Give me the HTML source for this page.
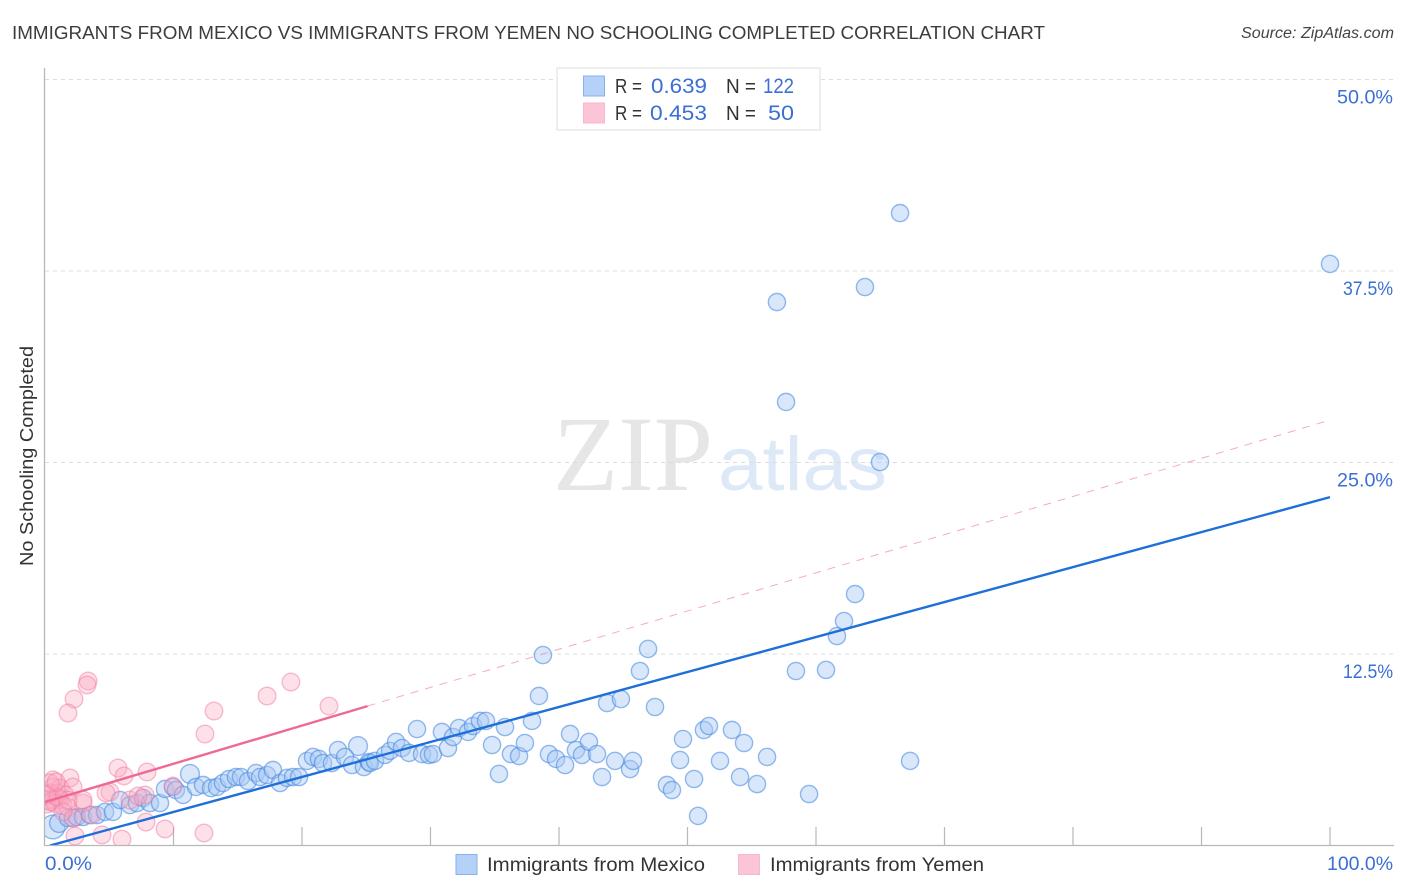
<!DOCTYPE html>
<html lang="en">
<head>
<meta charset="utf-8">
<title>Immigrants from Mexico vs Immigrants from Yemen No Schooling Completed Correlation Chart</title>
<style>
html,body{margin:0;padding:0;background:#fff;}
svg{display:block;font-family:"Liberation Sans",sans-serif;}
</style>
</head>
<body>
<svg id="chart" width="1406" height="892" viewBox="0 0 1406 892" xmlns="http://www.w3.org/2000/svg">
  <defs>
    <clipPath id="plot-clip"><rect x="45" y="68" width="1349" height="777"/></clipPath>
  </defs>
  <rect x="0" y="0" width="1406" height="892" fill="#ffffff"/>
  <text x="12" y="39" font-size="18.5" fill="#3c3c3c" textLength="1033" lengthAdjust="spacingAndGlyphs">IMMIGRANTS FROM MEXICO VS IMMIGRANTS FROM YEMEN NO SCHOOLING COMPLETED CORRELATION CHART</text>
  <text x="1241" y="38" font-size="15.3" font-style="italic" fill="#444444" textLength="153" lengthAdjust="spacingAndGlyphs">Source: ZipAtlas.com</text>
  <text x="553" y="490" font-family="'Liberation Serif',serif" font-size="107" font-weight="400" fill="#e6e6e6" textLength="160" lengthAdjust="spacingAndGlyphs">ZIP</text>
  <text x="718" y="490" font-size="76" fill="#deE9f8" textLength="169" lengthAdjust="spacingAndGlyphs">atlas</text>
  <g id="grid"></g>
  <g id="axes"></g>
  <g clip-path="url(#plot-clip)">
    <g id="mexico-points"></g>
    <g id="yemen-points"></g>
    <g id="trends"></g>
  </g>
  <text transform="translate(33,456) rotate(-90)" font-size="18.6" fill="#333333" text-anchor="middle" textLength="220" lengthAdjust="spacingAndGlyphs">No Schooling Completed</text>

  <g>
    <rect x="557" y="68" width="263" height="62" fill="#ffffff" stroke="#dddddd" stroke-width="1"/>
    <rect x="583.5" y="76" width="21" height="20" fill="#b5d1f7" stroke="#85b2ec" stroke-width="1"/>
    <rect x="583.5" y="103" width="21" height="20" fill="#fcc5d7" stroke="#f7b7cc" stroke-width="1"/>
    <text x="615" y="93" font-size="20" fill="#333333" textLength="27" lengthAdjust="spacingAndGlyphs">R =</text>
    <text x="651" y="93" font-size="21.5" fill="#3b6fd4" textLength="56" lengthAdjust="spacingAndGlyphs">0.639</text>
    <text x="726" y="93" font-size="20" fill="#333333" textLength="30" lengthAdjust="spacingAndGlyphs">N =</text>
    <text x="763" y="93" font-size="21.5" fill="#3b6fd4" textLength="31" lengthAdjust="spacingAndGlyphs">122</text>
    <text x="615" y="120" font-size="20" fill="#333333" textLength="27" lengthAdjust="spacingAndGlyphs">R =</text>
    <text x="650" y="120" font-size="21.5" fill="#3b6fd4" textLength="57" lengthAdjust="spacingAndGlyphs">0.453</text>
    <text x="726" y="120" font-size="20" fill="#333333" textLength="30" lengthAdjust="spacingAndGlyphs">N =</text>
    <text x="768" y="120" font-size="21.5" fill="#3b6fd4" textLength="26" lengthAdjust="spacingAndGlyphs">50</text>
  </g>

  <g>
    <rect x="456" y="854.5" width="21" height="20" fill="#b5d1f7" stroke="#85b2ec" stroke-width="1"/>
    <text x="487" y="871" font-size="19.5" fill="#333333" textLength="218" lengthAdjust="spacingAndGlyphs">Immigrants from Mexico</text>
    <rect x="738.5" y="854.5" width="21" height="20" fill="#fcc5d7" stroke="#f7b7cc" stroke-width="1"/>
    <text x="770" y="871" font-size="19.5" fill="#333333" textLength="214" lengthAdjust="spacingAndGlyphs">Immigrants from Yemen</text>
  </g>
</svg>
<script>
// ---- chart data (percent units) ----
const xTickValues = [0,10,20,30,40,50,60,70,80,90,100];
const yTickValues = [12.5,25,37.5,50];
const yTickLabels = ["12.5%","25.0%","37.5%","50.0%"];
const xEndLabels = ["0.0%","100.0%"];

const mexicoX = [0.62,1.09,11.28,24.36,1.79,2.18,2.49,2.96,3.50,4.05,4.67,5.29,5.84,6.61,7.16,7.63,8.17,8.95,9.34,9.96,10.19,10.74,11.75,12.30,12.92,13.39,13.85,14.32,14.86,15.25,15.80,16.42,16.73,17.28,17.74,18.29,18.83,19.30,19.77,20.39,20.86,21.32,21.63,22.33,22.80,23.35,23.89,24.82,25.21,25.29,25.68,26.46,26.85,27.32,27.78,28.33,28.95,29.34,29.88,30.19,30.89,31.36,31.75,32.22,32.92,33.31,33.85,34.32,34.79,35.33,35.80,36.26,36.89,37.35,37.90,38.44,38.75,39.22,39.77,40.47,40.86,41.32,41.79,42.33,42.96,43.35,43.74,44.36,44.82,45.53,45.76,46.30,46.93,47.47,48.40,48.79,49.42,49.65,50.51,50.82,51.28,51.67,52.53,53.46,54.09,54.40,55.41,56.19,56.96,57.67,58.44,59.46,60.78,61.63,62.18,63.04,63.81,64.98,66.54,67.32,100];
const mexicoY = [1.21,1.47,4.67,6.49,1.79,1.79,1.86,1.86,1.99,1.99,2.19,2.19,2.97,2.64,2.77,3.10,2.77,2.77,3.69,3.82,3.62,3.30,3.82,3.95,3.75,3.82,4.08,4.34,4.47,4.47,4.21,4.73,4.47,4.60,4.93,4.08,4.41,4.47,4.47,5.52,5.78,5.65,5.38,5.38,6.23,5.78,5.25,5.12,5.45,5.38,5.52,5.91,6.17,6.76,6.36,6.04,7.60,5.97,5.91,5.97,7.41,6.36,7.08,7.67,7.41,7.80,8.13,8.13,6.56,4.67,7.73,5.97,5.84,6.69,8.13,9.76,12.43,5.97,5.65,5.25,7.28,6.23,5.91,6.76,5.97,4.47,9.30,5.52,9.56,4.99,5.52,11.39,12.83,9.04,3.95,3.62,5.58,6.95,4.34,1.93,7.54,7.80,5.52,7.54,4.47,6.69,4.01,5.78,35.47,28.95,11.39,3.36,11.46,13.67,14.65,16.41,36.45,25.03,41.28,5.52,37.96];
// relative population weight of the leading Mexico points; the rest default to 1
const mexicoWeights = [1.9,1.2,1.2,1.2];

const yemenX = [3.35,3.27,2.26,1.79,13.15,12.45,17.28,19.14,22.10,5.68,6.15,7.94,9.96,5.06,4.75,7.78,2.96,7.86,9.34,12.37,2.33,4.44,5.99,0.62,1.95,0.62,1.17,2.18,0.39,1.01,1.56,0.23,0.62,1.17,0.16,0.78,1.40,0.39,1.01,1.79,2.18,2.96,1.40,0.39,0.16,0.86,1.79,3.66,6.61,7.24];
const yemenY = [10.74,10.48,9.56,8.65,8.78,7.28,9.76,10.67,9.10,5.06,4.54,4.80,3.88,3.49,3.43,3.30,2.77,1.53,1.08,0.82,0.62,0.69,0.42,4.28,4.41,3.82,3.75,3.82,3.43,3.43,3.30,2.97,2.97,2.97,2.70,2.75,2.60,2.85,3.15,2.50,1.79,2.97,2.20,4.08,3.30,4.15,2.97,1.99,2.97,3.23];

const mexicoTrendX = [0.4,100];
const mexicoTrendY = [0,22.74];
const yemenTrendX = [0,25.1];
const yemenTrendY = [2.84,9.10];
const yemenDashX = [25.1,100];
const yemenDashY = [9.10,27.77];

// ---- axis functions ----
function xScale(v){ return 45 + v * 12.85; }
function yScale(v){ return 845.5 - v * 15.32; }
const NS = 'http://www.w3.org/2000/svg';
function mk(parent, tag, attrs, text){
  const el = document.createElementNS(NS, tag);
  for (const k in attrs) el.setAttribute(k, attrs[k]);
  if (text !== undefined) el.textContent = text;
  parent.appendChild(el);
  return el;
}
const gridG = document.getElementById('grid');
const axesG = document.getElementById('axes');
const mexG = document.getElementById('mexico-points');
const yemG = document.getElementById('yemen-points');
const trendG = document.getElementById('trends');

// gridlines + y labels
yTickValues.forEach(function(v, i){
  const line = mk(gridG, 'line', {x1:45, x2:1394, y1:yScale(v), y2:yScale(v), stroke:'#dcdcdc', 'stroke-width':1, 'stroke-dasharray':'4 4'});
  
  
  const narrow = /[137]/.test(yTickLabels[i]);
  const label = mk(axesG, 'text', {x:1393, y:yScale(v)+24, 'font-size':19.4, fill:'#3b6fd4', 'text-anchor':'end', textLength: narrow ? 50 : 56, lengthAdjust:'spacingAndGlyphs'}, yTickLabels[i]);
  
  
});

// axis lines
const yAxis = mk(axesG, 'line', {x1:44.5, x2:44.5, y1:68, y2:846, stroke:'#b8b8b8', 'stroke-width':1.3});


const xAxis = mk(axesG, 'line', {x1:44, x2:1394, y1:845.5, y2:845.5, stroke:'#b8b8b8', 'stroke-width':1.3});



// x ticks
xTickValues.forEach(function(v){
  if (v === 0) return;
  const t = mk(axesG, 'line', {x1:xScale(v), x2:xScale(v), y1:827, y2:845.5, stroke:'#b8b8b8', 'stroke-width':1.2});
  
  
});
const xMin = mk(axesG, 'text', {x:45, y:870, 'font-size':19.4, fill:'#3b6fd4', textLength:47, lengthAdjust:'spacingAndGlyphs'}, xEndLabels[0]);


const xMax = mk(axesG, 'text', {x:1393, y:870, 'font-size':19.4, fill:'#3b6fd4', 'text-anchor':'end', textLength:66, lengthAdjust:'spacingAndGlyphs'}, xEndLabels[1]);



// points
mexicoX.forEach(function(v, i){
  const w = mexicoWeights[i] === undefined ? 1 : mexicoWeights[i];
  const r = 8.6 * Math.sqrt(w);
  const c = mk(mexG, 'circle', {cx:xScale(v), cy:yScale(mexicoY[i]), r:r, fill:'#a9caf4', 'fill-opacity':0.45, stroke:'#3f84e0', 'stroke-opacity':0.55, 'stroke-width':1.4});
  
  
});
yemenX.forEach(function(v, i){
  const c = mk(yemG, 'circle', {cx:xScale(v), cy:yScale(yemenY[i]), r:8.8, fill:'#fba8c2', 'fill-opacity':0.36, stroke:'#ee7fa3', 'stroke-opacity':0.5, 'stroke-width':1.4});
  
  
});

// trend lines
const dash = mk(trendG, 'line', {x1:xScale(yemenDashX[0]), y1:yScale(yemenDashY[0]), x2:xScale(yemenDashX[1]), y2:yScale(yemenDashY[1]), stroke:'#f08fad', 'stroke-width':1, 'stroke-dasharray':'8 7', 'stroke-opacity':0.75});


const yTrend = mk(trendG, 'line', {x1:xScale(yemenTrendX[0]), y1:yScale(yemenTrendY[0]), x2:xScale(yemenTrendX[1]), y2:yScale(yemenTrendY[1]), stroke:'#ee6a94', 'stroke-width':2.4});


const mTrend = mk(trendG, 'line', {x1:xScale(mexicoTrendX[0]), y1:yScale(mexicoTrendY[0]), x2:xScale(mexicoTrendX[1]), y2:yScale(mexicoTrendY[1]), stroke:'#1f6fd8', 'stroke-width':2.4});


</script>
</body>
</html>
